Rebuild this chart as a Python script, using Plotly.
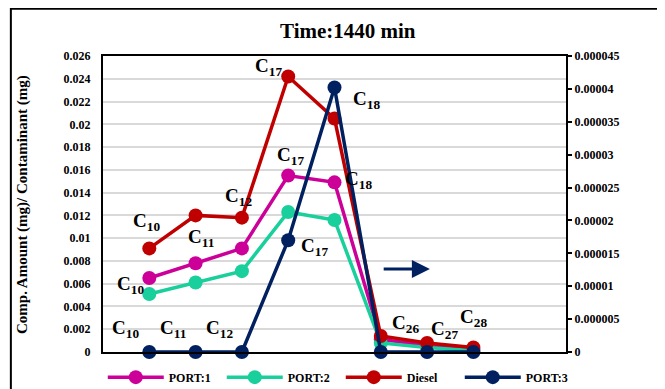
import plotly.graph_objects as go

# ---- data ----
categories = ["C10", "C11", "C12", "C17", "C18", "C26", "C27", "C28"]
x_pos = [1, 2, 3, 4, 5, 6, 7, 8]
port1 = [0.0065, 0.0078, 0.0091, 0.0155, 0.0149, 0.0011, 0.0006, 0.0002]
port2 = [0.0051, 0.0061, 0.0071, 0.0123, 0.0116, 0.0008, 0.0004, 0.0001]
diesel = [0.0091, 0.0120, 0.0118, 0.0242, 0.0205, 0.0014, 0.0008, 0.0004]
port3 = [0, 0, 0, 0.000017, 0.0000402, 0, 0, 0]  # right axis

left_ticks = [0, 0.002, 0.004, 0.006, 0.008, 0.01, 0.012, 0.014, 0.016, 0.018, 0.02, 0.022, 0.024, 0.026]
left_labels = ["0", "0.002", "0.004", "0.006", "0.008", "0.01", "0.012", "0.014", "0.016", "0.018",
               "0.02", "0.022", "0.024", "0.026"]
right_ticks = [0, 0.000005, 0.00001, 0.000015, 0.00002, 0.000025, 0.00003, 0.000035, 0.00004, 0.000045]
right_labels = ["0", "0.000005", "0.00001", "0.000015", "0.00002", "0.000025", "0.00003",
                "0.000035", "0.00004", "0.000045"]

# label annotations: (text, x, y)
labels = [
    ("C<sub>10</sub>", 0.93, 0.0114),
    ("C<sub>11</sub>", 2.12, 0.0100),
    ("C<sub>12</sub>", 2.92, 0.0136),
    ("C<sub>17</sub>", 3.58, 0.0250),
    ("C<sub>18</sub>", 5.70, 0.0221),
    ("C<sub>17</sub>", 4.04, 0.0172),
    ("C<sub>18</sub>", 5.52, 0.0151),
    ("C<sub>10</sub>", 0.60, 0.0059),
    ("C<sub>17</sub>", 4.57, 0.0092),
    ("C<sub>10</sub>", 0.48, 0.0020),
    ("C<sub>11</sub>", 1.51, 0.0020),
    ("C<sub>12</sub>", 2.51, 0.0020),
    ("C<sub>26</sub>", 6.54, 0.0025),
    ("C<sub>27</sub>", 7.37, 0.0019),
    ("C<sub>28</sub>", 8.01, 0.0030),
]

FONT = "Liberation Serif"
colors = {"PORT:1": "#CC0099", "PORT:2": "#19CF9B", "Diesel": "#C00000", "PORT:3": "#002060"}

fig = go.Figure()
for name, vals, axis in [("PORT:1", port1, "y"), ("PORT:2", port2, "y"),
                         ("Diesel", diesel, "y"), ("PORT:3", port3, "y2")]:
    fig.add_trace(go.Scatter(
        x=x_pos, y=vals, name=name, yaxis=axis, mode="lines+markers",
        line=dict(color=colors[name], width=3.5),
        marker=dict(color=colors[name], size=14),
        cliponaxis=False,
    ))

annotations = []
for t, x, y in labels:
    annotations.append(dict(text=t, x=x, y=y, xref="x", yref="y", showarrow=False,
                            xanchor="center", yanchor="middle",
                            font=dict(family=FONT, size=19, color="black", weight="bold")))
# arrow pointing to right axis
annotations.append(dict(x=7.06, y=0.0073, ax=6.03, ay=0.0073, xref="x", yref="y",
                        axref="x", ayref="y", text="", showarrow=True,
                        arrowhead=2, arrowsize=1.2, arrowwidth=3, arrowcolor="#002060"))
# y axis title
annotations.append(dict(text="Comp. Amount (mg)/ Contaminant (mg)", x=-0.175, y=0.5,
                        xref="paper", yref="paper", textangle=-90, showarrow=False,
                        xanchor="center", yanchor="middle",
                        font=dict(family=FONT, size=15, color="black", weight="bold")))
# title
annotations.append(dict(text="Time:1440 min", x=0.53, y=1.085, xref="paper", yref="paper",
                        showarrow=False, xanchor="center", yanchor="middle",
                        font=dict(family=FONT, size=21, color="black", weight="bold")))

fig.update_layout(
    width=657, height=381,
    margin=dict(l=95, r=99, t=48, b=37, autoexpand=False),
    paper_bgcolor="white", plot_bgcolor="white",
    font=dict(family=FONT, size=12, color="black", weight="bold"),
    showlegend=True,
    legend=dict(orientation="h", x=-0.0005, y=-0.085, xanchor="left", yanchor="middle",
                font=dict(family=FONT, size=12, color="black", weight="bold"),
                itemwidth=56, entrywidth=48, bgcolor="rgba(0,0,0,0)"),
    annotations=annotations,
    shapes=[dict(type="rect", xref="paper", yref="paper", x0=-0.199, x1=1.25, y0=-0.2, y1=1.16,
                 line=dict(color="black", width=2), fillcolor="rgba(0,0,0,0)", layer="below")],
    xaxis=dict(range=[0, 10], showticklabels=False, ticks="", showgrid=False, zeroline=False,
               showline=True, linecolor="black", linewidth=2, mirror=True),
    yaxis=dict(range=[0, 0.026], tickvals=left_ticks, ticktext=left_labels, showgrid=True,
               gridcolor="#D9D9D9", gridwidth=1.5, zeroline=False, showline=True,
               linecolor="black", linewidth=2, ticks="", ticklabelstandoff=8),
    yaxis2=dict(range=[0, 0.000045], tickvals=right_ticks, ticktext=right_labels,
                overlaying="y", side="right", showgrid=False, zeroline=False, showline=True,
                linecolor="black", linewidth=2, ticks="outside", ticklen=4, tickwidth=2,
                tickcolor="black"),
)

fig.write_html("out.html")
